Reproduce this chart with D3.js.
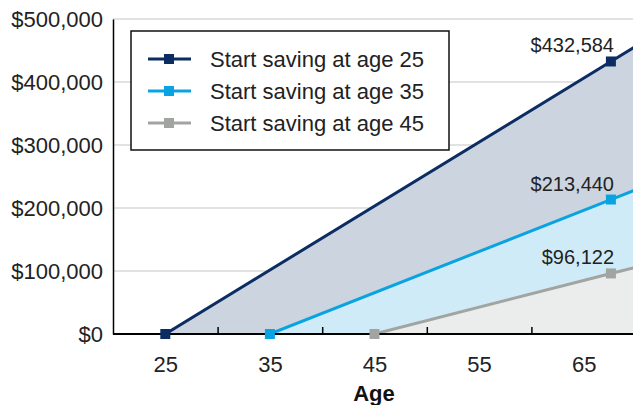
<!DOCTYPE html>
<html>
<head>
<meta charset="utf-8">
<script src="https://cdn.jsdelivr.net/npm/d3@7"></script>
<style>
  html, body { margin: 0; padding: 0; background: #fff; }
  svg { display: block; font-family: "Liberation Sans", Arial, Helvetica, sans-serif; }
</style>
</head>
<body>
<svg id="chart" width="633" height="405"></svg>
<script>
// Savings balance by age, for three different starting ages
const seriesNames = ["Start saving at age 25", "Start saving at age 35", "Start saving at age 45"];
const startAges   = [25, 35, 45];
const retireAge   = 67.6;
const retireValues = [432584, 213440, 96122];
const edgeAge     = 70;
const edgeValues  = [457000, 229000, 106000];
const xTickLabels = [25, 35, 45, 55, 65];
const xTickMarks  = [30, 40, 50, 60];
const yTickValues = [0, 100000, 200000, 300000, 400000, 500000];

const lineColors = ["#0c2d63", "#0aa3e2", "#a1a4a1"];
const areaColors = ["#ccd5df", "#d0ebf8", "#ebecec"];

const series = seriesNames.map((name, i) => ({
  name,
  line: lineColors[i],
  area: areaColors[i],
  points: [
    { age: startAges[i], value: 0 },
    { age: retireAge, value: retireValues[i] },
    { age: edgeAge, value: edgeValues[i] }
  ]
}));

const svg = d3.select("#chart");
const x = d3.scaleLinear().domain([20, 70]).range([113, 636]);
const y = d3.scaleLinear().domain([0, 500000]).range([334, 19]);
const fmt = d3.format("$,");

svg.append("defs").append("clipPath").attr("id", "plot")
  .append("rect").attr("x", 113).attr("y", 0).attr("width", 520).attr("height", 334);

// horizontal gridlines
svg.append("g").selectAll("line")
  .data(yTickValues.filter(v => v > 0))
  .join("line")
  .attr("x1", 113).attr("x2", 633)
  .attr("y1", d => y(d)).attr("y2", d => y(d))
  .attr("stroke", "#d9d9d9").attr("stroke-width", 1.5);

const plot = svg.append("g").attr("clip-path", "url(#plot)");

// stacked-looking areas, drawn earliest start first
const area = d3.area().x(d => x(d.age)).y0(y(0)).y1(d => y(d.value));
plot.selectAll("path.area").data(series).join("path")
  .attr("class", "area")
  .attr("d", d => area(d.points))
  .attr("fill", d => d.area);

const line = d3.line().x(d => x(d.age)).y(d => y(d.value));
plot.selectAll("path.line").data(series).join("path")
  .attr("class", "line")
  .attr("d", d => line(d.points))
  .attr("fill", "none")
  .attr("stroke", d => d.line)
  .attr("stroke-width", 3);

// axes
const yAxis = d3.axisLeft(y).tickValues(yTickValues).tickSize(0).tickPadding(10)
  .tickFormat(fmt);
const gy = svg.append("g").attr("transform", "translate(113,0)").call(yAxis);
gy.select(".domain").attr("stroke", "#000").attr("stroke-width", 1.5);
gy.selectAll("text").attr("font-size", 22).attr("fill", "#222");

const xAxisLabels = d3.axisBottom(x).tickValues(xTickLabels).tickSize(0).tickPadding(22)
  .tickFormat(d3.format("d"));
const gx = svg.append("g").attr("transform", "translate(0,334)").call(xAxisLabels);
gx.select(".domain").remove();
gx.selectAll("text").attr("font-size", 22).attr("fill", "#222");

const xAxisTicks = d3.axisTop(x).tickValues(xTickMarks).tickSize(7).tickFormat("");
const gt = svg.append("g").attr("transform", "translate(0,334)").call(xAxisTicks);
gt.select(".domain").remove();
gt.selectAll("line").attr("stroke", "#000").attr("stroke-width", 1.5);

svg.append("line")
  .attr("x1", 113).attr("x2", 633).attr("y1", y(0)).attr("y2", y(0))
  .attr("stroke", "#000").attr("stroke-width", 2);

// markers at start and retirement
const markerPts = series.flatMap(s => s.points.slice(0, 2).map(p => ({ ...p, color: s.line })));
svg.append("g").selectAll("rect").data(markerPts).join("rect")
  .attr("x", d => x(d.age) - 5).attr("y", d => y(d.value) - 5)
  .attr("width", 10).attr("height", 10)
  .attr("fill", d => d.color);

// value labels
svg.append("g").selectAll("text").data(series).join("text")
  .attr("x", 614)
  .attr("y", d => y(d.points[1].value) - 9)
  .attr("text-anchor", "end")
  .attr("font-size", 20)
  .attr("fill", "#222")
  .text(d => fmt(d.points[1].value));

// axis title
svg.append("text")
  .attr("x", 374).attr("y", 401)
  .attr("text-anchor", "middle")
  .attr("font-size", 22).attr("font-weight", "bold")
  .attr("fill", "#111")
  .text("Age");

// legend
const legend = svg.append("g");
legend.append("rect")
  .attr("x", 131).attr("y", 31).attr("width", 318).attr("height", 119)
  .attr("fill", "#fff").attr("stroke", "#111").attr("stroke-width", 1.5);
const rows = legend.selectAll("g.row").data(series).join("g")
  .attr("class", "row")
  .attr("transform", (d, i) => `translate(0,${59 + i * 32})`);
rows.append("line")
  .attr("x1", 148).attr("x2", 191).attr("y1", 0).attr("y2", 0)
  .attr("stroke", d => d.line).attr("stroke-width", 3);
rows.append("rect")
  .attr("x", 164).attr("y", -5).attr("width", 10).attr("height", 10)
  .attr("fill", d => d.line);
rows.append("text")
  .attr("x", 210).attr("y", 7.5)
  .attr("font-size", 22).attr("fill", "#222")
  .text(d => d.name);
</script>
</body>
</html>
